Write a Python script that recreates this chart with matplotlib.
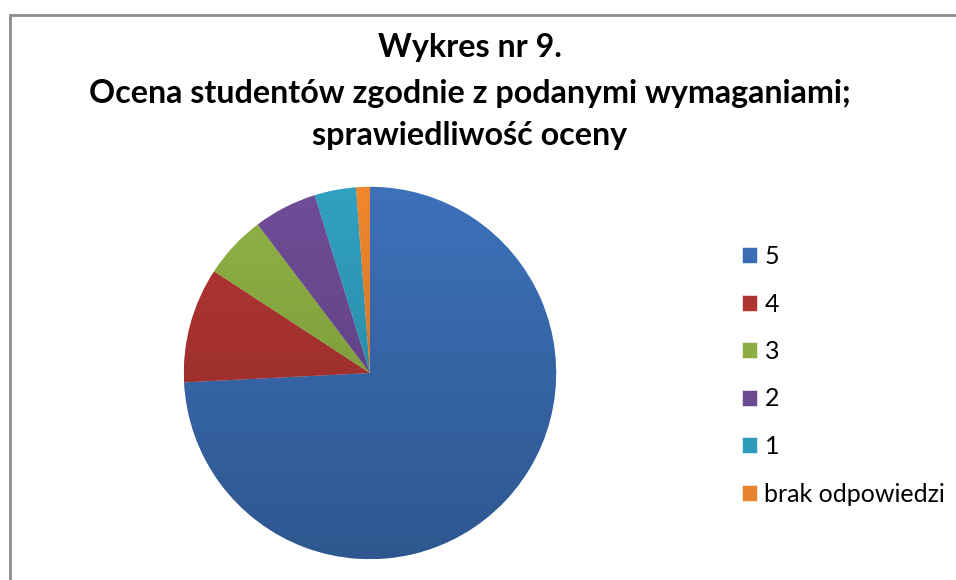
import matplotlib.pyplot as plt
import matplotlib.colors as mcolors
from matplotlib.patches import Rectangle
import numpy as np

# udział odpowiedzi w procentach
labels = ['5', '4', '3', '2', '1', 'brak odpowiedzi']
values = [74.2, 10.0, 5.5, 5.5, 3.6, 1.2]
colors = ['#3A6DB3', '#AE3532', '#8BAD43', '#6C4A92', '#2F9BBA', '#E8822B']

title_lines = ['Wykres nr 9.',
               'Ocena studentów zgodnie z podanymi wymaganiami;',
               'sprawiedliwość oceny']

plt.rcParams['font.family'] = ['Lato', 'DejaVu Sans']

fig = plt.figure(figsize=(9.56, 5.80), dpi=100)
fig.patch.set_facecolor('white')

# ramka wykresu (widoczna tylko lewa i górna krawędź)
fig.patches.append(Rectangle((10 / 956, -0.1), 1.2, (580 - 15) / 580 + 0.1,
                             transform=fig.transFigure, fill=False,
                             edgecolor='#8c8c8c', linewidth=2))

# tytuł
for txt, y in zip(title_lines, [47, 93, 136]):
    fig.text(470 / 956, 1 - y / 580, txt, ha='center', va='center',
             fontsize=23.2, fontweight='bold', color='black')

ax = fig.add_axes([(370 - 188) / 956, (580 - 561) / 580, 376 / 956, 376 / 580])
wedges, _ = ax.pie(values, colors=colors, startangle=90, counterclock=False,
                   radius=1, wedgeprops=dict(edgecolor='#ffffff', linewidth=0.4))

# pionowy gradient w każdym wycinku
grad = np.linspace(0, 1, 256).reshape(-1, 1)
for w, c in zip(wedges, colors):
    rgb = np.array(mcolors.to_rgb(c))
    cmap = mcolors.LinearSegmentedColormap.from_list('g', [rgb * 0.80, np.minimum(rgb * 1.04, 1)])
    im = ax.imshow(grad, cmap=cmap, extent=[-1, 1, -1, 1], origin='lower',
                   aspect='auto', zorder=w.get_zorder())
    im.set_clip_path(w)
ax.set_xlim(-1.01, 1.01)
ax.set_ylim(-1.01, 1.01)
ax.set_aspect('equal')
ax.axis('off')

leg = fig.legend(wedges, labels, loc='upper left', bbox_to_anchor=(732 / 956, 1 - 235 / 580),
                 frameon=False, fontsize=18, handlelength=0.6, handleheight=0.6,
                 handletextpad=0.3, labelspacing=0.98, borderaxespad=0)

plt.savefig('out.png', dpi=100)
